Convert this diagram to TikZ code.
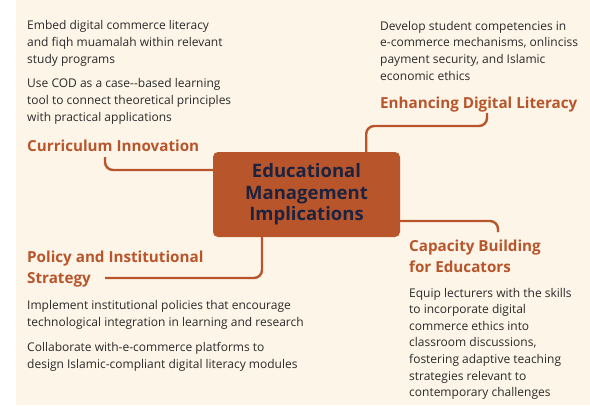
\documentclass[tikz,border=0pt]{standalone}
\usepackage{fontspec}
\setmainfont{Open Sans}
\usetikzlibrary{positioning}
\definecolor{rust}{HTML}{B8552B}
\definecolor{cream}{HTML}{FDF5E8}
\definecolor{ink}{HTML}{1C2340}
\definecolor{bodyink}{HTML}{2A2A2A}
\tikzset{
  heading/.style={text=rust, font=\fontsize{15.2}{21}\selectfont\bfseries, align=left, inner sep=0pt, anchor=base west},
  bodytxt/.style={text=bodyink, font=\fontsize{12}{16.6}\selectfont, align=left, inner sep=0pt, anchor=base west},
  hubbox/.style={fill=rust, rounded corners=5pt, minimum width=187pt, minimum height=85pt, text=ink, font=\fontsize{18.5}{21.5}\selectfont\bfseries, align=center},
  link/.style={draw=rust, line width=2.4pt, rounded corners=8pt}
}
\begin{document}
\begin{tikzpicture}[x=1pt,y=-1pt]
    \useasboundingbox (0,0) rectangle (590,405);
    \fill[white] (0,0) rectangle (590,405);
    \fill[cream] (16,0) rectangle (590,405);
    % centre
    \node[hubbox] (hub) at (306.5,194.5) {Educational\\Management\\Implications};
    % curriculum (base = last line)
    \node[bodytxt] (currA) at (27,63) {Embed digital commerce literacy\\and fiqh muamalah within relevant\\study programs};
    \node[bodytxt] (currB) at (27,121) {Use COD as a case-{}-based learning\\tool to connect theoretical principles\\with practical applications};
    \node[heading] (curr) at (27,151) {Curriculum Innovation};
    % digital literacy
    \node[bodytxt] (litA) at (380,80) {Develop student competencies in\\e-commerce mechanisms, onlinciss\\payment security, and Islamic\\economic ethics};
    \node[heading] (lit) at (380,108) {Enhancing Digital Literacy};
    % policy
    \node[heading] (pol) at (27,283) {Policy and Institutional\\Strategy};
    \node[bodytxt] (polA) at (27,326) {Implement institutional policies that encourage\\technological integration in learning and research};
    \node[bodytxt] (polB) at (27,368) {Collaborate with-e-commerce platforms to\\design Islamic-compliant digital literacy modules};
    % capacity
    \node[heading] (cap) at (409,272) {Capacity Building\\for Educators};
    \node[bodytxt] (capA) at (409,396.6) {Equip lecturers with the skills\\to incorporate digital\\commerce ethics into\\classroom discussions,\\fostering adaptive teaching\\strategies relevant to\\contemporary challenges};
    % links
    \draw[link] ([xshift=78pt,yshift=-6pt]curr.base west) |- ([yshift=24.5pt]hub.west);
    \draw[link] ([xshift=-34pt]hub.north east) |- ([xshift=107pt,yshift=-18pt]lit.base west) -- ([xshift=107pt,yshift=-5pt]lit.base west);
    \draw[link] ([yshift=-26.5pt]hub.east) -| ([xshift=89pt,yshift=40pt]cap.base west);
    \draw[link] ([xshift=-44.5pt]hub.south) |- ([xshift=78pt,yshift=5pt]pol.base west);
\end{tikzpicture}
\end{document}
